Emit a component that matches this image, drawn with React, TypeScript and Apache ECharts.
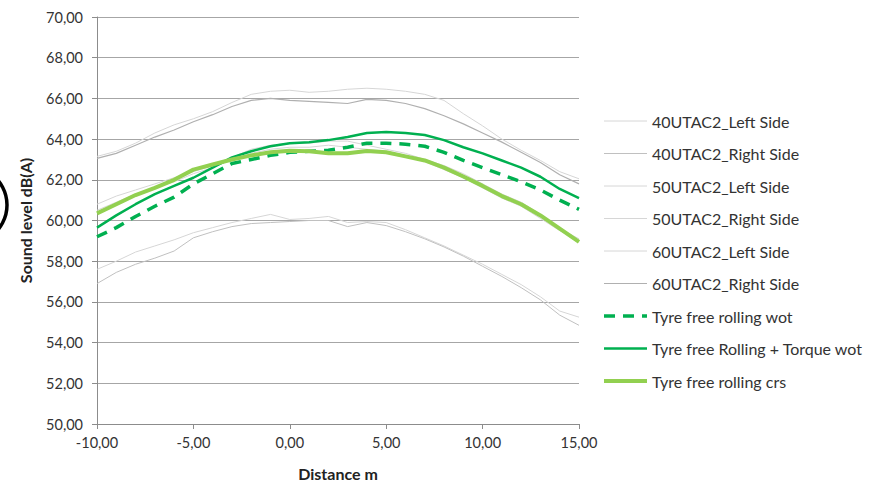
import React, { useEffect, useRef } from "react";
import * as echarts from "echarts";

// Pass-by distance (m), one reading per metre
const distance = [-10, -9, -8, -7, -6, -5, -4, -3, -2, -1, 0, 1, 2, 3, 4, 5, 6, 7, 8, 9, 10, 11, 12, 13, 14, 15];

// Sound level dB(A) per run
const utac40Left = [57.6, 58.0, 58.45, 58.75, 59.05, 59.4, 59.65, 59.9, 60.1, 60.3, 60.05, 60.1, 60.2, 59.9, 59.95, 59.9, 59.55, 59.15, 58.75, 58.3, 57.85, 57.35, 56.85, 56.25, 55.55, 55.25];
const utac40Right = [56.9, 57.45, 57.85, 58.15, 58.5, 59.15, 59.45, 59.7, 59.85, 59.9, 59.95, 60.0, 60.0, 59.7, 59.9, 59.75, 59.45, 59.1, 58.7, 58.25, 57.75, 57.25, 56.7, 56.1, 55.35, 54.85];
const utac50Left = [60.8, 61.2, 61.5, 61.8, 62.1, 62.4, 62.7, 63.1, 63.5, 63.7, 63.8, 63.8, 63.9, 63.9, 63.7, 63.5, 63.3, 63.0, 62.7, 62.3, 61.8, 61.3, 60.9, 60.3, 59.6, 59.1];
const utac50Right = [60.5, 60.9, 61.3, 61.6, 61.9, 62.3, 62.6, 63.0, 63.3, 63.5, 63.6, 63.6, 63.7, 63.6, 63.5, 63.4, 63.2, 62.9, 62.5, 62.1, 61.6, 61.1, 60.7, 60.1, 59.5, 59.0];
const utac60Left = [63.15, 63.4, 63.8, 64.3, 64.7, 65.0, 65.35, 65.8, 66.2, 66.35, 66.4, 66.3, 66.35, 66.45, 66.5, 66.45, 66.35, 66.2, 65.9, 65.25, 64.65, 64.0, 63.45, 62.95, 62.4, 62.05];
const utac60Right = [63.05, 63.3, 63.7, 64.1, 64.45, 64.85, 65.2, 65.6, 65.9, 66.0, 65.9, 65.85, 65.8, 65.75, 65.95, 65.9, 65.75, 65.5, 65.15, 64.75, 64.3, 63.85, 63.35, 62.85, 62.25, 61.8];
const freeRollingWot = [59.2, 59.65, 60.2, 60.7, 61.15, 61.8, 62.3, 62.8, 63.0, 63.2, 63.35, 63.4, 63.45, 63.6, 63.8, 63.8, 63.75, 63.65, 63.35, 62.95, 62.6, 62.25, 61.9, 61.5, 61.0, 60.55];
const rollingTorqueWot = [59.65, 60.25, 60.8, 61.3, 61.7, 62.1, 62.6, 63.1, 63.4, 63.65, 63.8, 63.85, 63.95, 64.1, 64.3, 64.35, 64.3, 64.2, 63.95, 63.6, 63.3, 62.95, 62.6, 62.15, 61.55, 61.1];
const freeRollingCrs = [60.35, 60.8, 61.25, 61.6, 62.0, 62.5, 62.75, 63.0, 63.2, 63.35, 63.43, 63.4, 63.3, 63.3, 63.42, 63.35, 63.15, 62.95, 62.6, 62.16, 61.7, 61.2, 60.8, 60.25, 59.6, 58.95];

const seriesNames = [
  "40UTAC2_Left Side",
  "40UTAC2_Right Side",
  "50UTAC2_Left Side",
  "50UTAC2_Right Side",
  "60UTAC2_Left Side",
  "60UTAC2_Right Side",
  "Tyre free rolling wot",
  "Tyre free Rolling + Torque wot",
  "Tyre free rolling crs",
];

const seriesValues = [utac40Left, utac40Right, utac50Left, utac50Right, utac60Left, utac60Right, freeRollingWot, rollingTorqueWot, freeRollingCrs];

const seriesStyles = [
  { color: "#D6D6D6", width: 1, type: "solid" },
  { color: "#C0C0C0", width: 1, type: "solid" },
  { color: "#D6D6D6", width: 1, type: "solid" },
  { color: "#D6D6D6", width: 1, type: "solid" },
  { color: "#D6D6D6", width: 1, type: "solid" },
  { color: "#B0B0B0", width: 1.2, type: "solid" },
  { color: "#00B050", width: 3.5, type: [11, 8] },
  { color: "#00B050", width: 2.5, type: "solid" },
  { color: "#92D050", width: 4, type: "solid" },
];

const FONT = "Lato, 'Open Sans', sans-serif";
const fmt = (v: number) => v.toFixed(2).replace(".", ",");

export default function App() {
  const ref = useRef<HTMLDivElement>(null);

  useEffect(() => {
    if (!ref.current) return;
    const chart = echarts.init(ref.current, null, { renderer: "svg" });

    const series = seriesNames.map((name, i) => ({
      name,
      type: "line",
      data: distance.map((d, j) => [d, seriesValues[i][j]]),
      showSymbol: false,
      symbol: "none",
      smooth: false,
      lineStyle: {
        color: seriesStyles[i].color,
        width: seriesStyles[i].width,
        type: seriesStyles[i].type as any,
      },
      itemStyle: { color: seriesStyles[i].color },
      z: i >= 6 ? 3 : 2,
    }));

    chart.setOption({
      animation: false,
      backgroundColor: "#ffffff",
      textStyle: { fontFamily: FONT },
      grid: { left: 97, top: 17, right: 306, bottom: 80, containLabel: false },
      legend: {
        orient: "vertical",
        left: 602,
        top: 113,
        padding: 0,
        itemWidth: 43,
        itemHeight: 14,
        itemGap: 16.5,
        data: seriesNames,
        itemStyle: { opacity: 0 },
        lineStyle: { width: "inherit" },
        textStyle: { fontFamily: FONT, fontSize: 16, color: "#333333" },
        selectedMode: false,
      },
      xAxis: {
        type: "value",
        min: -10,
        max: 15,
        interval: 5,
        name: "Distance m",
        nameLocation: "middle",
        nameGap: 41,
        nameTextStyle: { fontFamily: FONT, fontSize: 16, fontWeight: "bold", color: "#222222" },
        axisLine: { show: true, onZero: false, lineStyle: { color: "#8C8C8C", width: 1 } },
        axisTick: { show: true, length: 5, lineStyle: { color: "#8C8C8C" } },
        axisLabel: { formatter: fmt, fontFamily: FONT, fontSize: 14.5, color: "#333333", margin: 11 },
        splitLine: { show: false },
      },
      yAxis: {
        type: "value",
        min: 50,
        max: 70,
        interval: 2,
        name: "Sound level dB(A)",
        nameLocation: "middle",
        nameGap: 64,
        nameTextStyle: { fontFamily: FONT, fontSize: 16, fontWeight: "bold", color: "#222222" },
        axisLine: { show: true, onZero: false, lineStyle: { color: "#8C8C8C", width: 1 } },
        axisTick: { show: true, length: 5, lineStyle: { color: "#8C8C8C" } },
        axisLabel: { formatter: fmt, fontFamily: FONT, fontSize: 14.5, color: "#333333", margin: 14 },
        splitLine: { show: true, lineStyle: { color: "#A6A6A6", width: 1 } },
      },
      graphic: [
        {
          type: "circle",
          shape: { cx: -31, cy: 205, r: 38 },
          style: { fill: "none", stroke: "#000000", lineWidth: 3.5 },
          silent: true,
        },
      ],
      series,
    });

    return () => chart.dispose();
  }, []);

  return <div ref={ref} style={{ width: 885, height: 504, position: "absolute", left: 0, top: 0 }} />;
}
